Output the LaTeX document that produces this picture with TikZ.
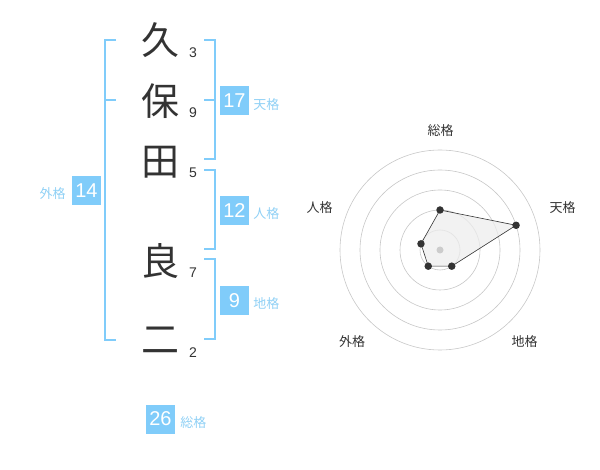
\documentclass[tikz,border=0pt]{standalone}
\usepackage{fontspec}
\setmainfont{Liberation Sans}
\newfontfamily\jp{Noto Sans CJK JP}
\usetikzlibrary{positioning,calc}
\definecolor{kaku}{HTML}{80CCFA}
\definecolor{kakutxt}{HTML}{8FD0F5}
\definecolor{ink}{HTML}{333333}
\begin{document}
\begin{tikzpicture}
    [x=1pt, y=-1pt, every node/.style={inner sep=0pt},
      ch/.style={font=\jp\fontsize{38}{38}\selectfont, text=ink},
      num/.style={font=\fontsize{14}{14}\selectfont, text=ink},
      box/.style={fill=kaku, text=white, minimum size=29pt,
        font=\fontsize{20}{20}\selectfont},
      lbl/.style={font=\jp\fontsize{13}{13}\selectfont, text=kakutxt},
      brk/.style={draw=kaku, line width=1.8pt},
      ring/.style={draw=black!22, line width=0.6pt},
      axl/.style={font=\jp\fontsize{13}{13}\selectfont, text=ink},
      dot/.style={circle, fill=ink, minimum size=7.5pt}]

    \useasboundingbox (0,0) rectangle (600,470);

    % name and strokes
    \node[ch] (c1) at (160.5,40) {久};
    \node[ch] (c2) at (160.5,101) {保};
    \node[ch] (c3) at (160.5,162) {田};
    \node[ch] (c4) at (160.5,261) {良};
    \node[ch] (c5) at (160.5,340) {二};
    \node[num] (n1) at (193,53) {3};
    \node[num] (n2) at (193,113) {9};
    \node[num] (n3) at (193,173) {5};
    \node[num] (n4) at (193,273) {7};
    \node[num] (n5) at (193,353) {2};

    % brackets
    \draw[brk] (116,40) -- (105,40) -- (105,340) -- (116,340)
      (105,100) -- (116,100);
    \draw[brk] (204,40) -- (215,40) -- (215,159) -- (204,159)
      (204,100) -- (215,100);
    \draw[brk] (204,170) -- (215,170) -- (215,249) -- (204,249);
    \draw[brk] (204,259) -- (215,259) -- (215,339) -- (204,339);

    % kaku boxes
    \node[box] (gai) at (86.5,190.5) {14};
    \node[lbl, left=6pt of gai, yshift=-3pt] (gail) {外格};
    \node[box] (ten) at (234.5,100.5) {17};
    \node[lbl, right=4pt of ten, yshift=-4pt] (tenl) {天格};
    \node[box] (jin) at (234.5,210.5) {12};
    \node[lbl, right=4pt of jin, yshift=-3pt] (jinl) {人格};
    \node[box] (chi) at (234.5,300.5) {9};
    \node[lbl, right=4pt of chi, yshift=-3pt] (chil) {地格};
    \node[box] (sou) at (160.5,419) {26};
    \node[lbl, right=5pt of sou, yshift=-4pt] (soul) {総格};

    % radar
    \coordinate (o) at (440,250);
    \foreach \r in {20,40,60,80,100}
      \draw[ring] (o) circle (\r pt);
    \coordinate (p1) at ($(o)+(-90:40)$);
    \coordinate (p2) at ($(o)+(-18:80)$);
    \coordinate (p3) at ($(o)+(54:20)$);
    \coordinate (p4) at ($(o)+(126:20)$);
    \coordinate (p5) at ($(o)+(198:20)$);
    \filldraw[fill=black!7, fill opacity=0.75, draw=ink, line width=0.6pt]
      (p1) -- (p2) -- (p3) -- (p4) -- (p5) -- cycle;
    \fill[black!20] (o) circle (3.5pt);
    \foreach \p in {p1,p2,p3,p4,p5}
      \node[dot] at (\p) {};
    \node[axl] (a1) at (440.5,130.5) {総格};
    \node[axl] (a2) at (562.5,208) {天格};
    \node[axl] (a3) at (524.5,342) {地格};
    \node[axl] (a4) at (352,342) {外格};
    \node[axl] (a5) at (319.5,208) {人格};
  \end{tikzpicture}
\end{document}
